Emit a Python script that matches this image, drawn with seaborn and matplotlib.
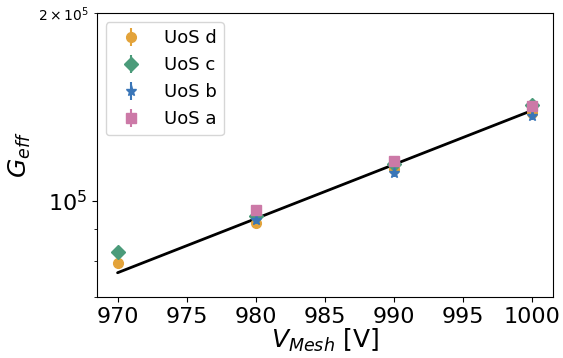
import matplotlib
matplotlib.use("Agg")
import matplotlib.pyplot as plt
import pandas as pd
import seaborn as sns

# Gain per chamber vs mesh voltage
labels = ["UoS d", "UoS c", "UoS b", "UoS a"]
markers = ["o", "D", "*", "s"]
colors = ["#E3A33A", "#4B9B7A", "#3A76B8", "#CC79A7"]

v_d = [970, 980, 990, 1000]
g_d = [79300, 91900, 112500, 138200]
v_c = [970, 980, 990, 1000]
g_c = [82650, 94600, 114600, 142500]
v_b = [980, 990, 1000]
g_b = [93200, 110900, 136500]
v_a = [980, 990, 1000]
g_a = [96700, 115900, 142000]
err_frac = 0.015

# exponential fit (straight on log axis)
fit_v = [970, 1000]
fit_g = [76600, 139500]

xticks = [970, 975, 980, 985, 990, 995, 1000]

series = [(v_d, g_d), (v_c, g_c), (v_b, g_b), (v_a, g_a)]

sns.set_style("ticks")
plt.rcParams["font.family"] = ["DejaVu Sans"]
plt.rcParams["text.color"] = "black"
plt.rcParams["axes.labelcolor"] = "black"

fig, ax = plt.subplots(figsize=(5.63, 3.58), dpi=100)
fig.subplots_adjust(left=0.172, right=0.982, bottom=0.170, top=0.964)

for (v, g), lab, m, c in zip(series, labels, markers, colors):
    yerr = [val * err_frac for val in g]
    ax.errorbar(v, g, yerr=yerr, fmt=m, color=c, label=lab,
                markersize=7 if m != "*" else 8, elinewidth=1.5, capsize=0)

fit_df = pd.DataFrame({"V": fit_v, "G": fit_g})
sns.lineplot(data=fit_df, x="V", y="G", color="black", linewidth=2, ax=ax)

ax.set_yscale("log")
ax.set_ylim(7e4, 2e5)
ax.set_xlim(968.5, 1001.5)
ax.set_xticks(xticks)
ax.set_xlabel("$V_{Mesh}$ [V]", fontsize=18, labelpad=0)
ax.set_ylabel("$G_{eff}$", fontsize=18)
ax.tick_params(axis="both", which="major", labelsize=16, colors="black")
ax.tick_params(axis="both", which="minor", labelsize=10, colors="black")
for s in ax.spines.values():
    s.set_color("black")

ax.legend(loc="upper left", fontsize=13, frameon=True)

fig.savefig("out.png", dpi=100)
